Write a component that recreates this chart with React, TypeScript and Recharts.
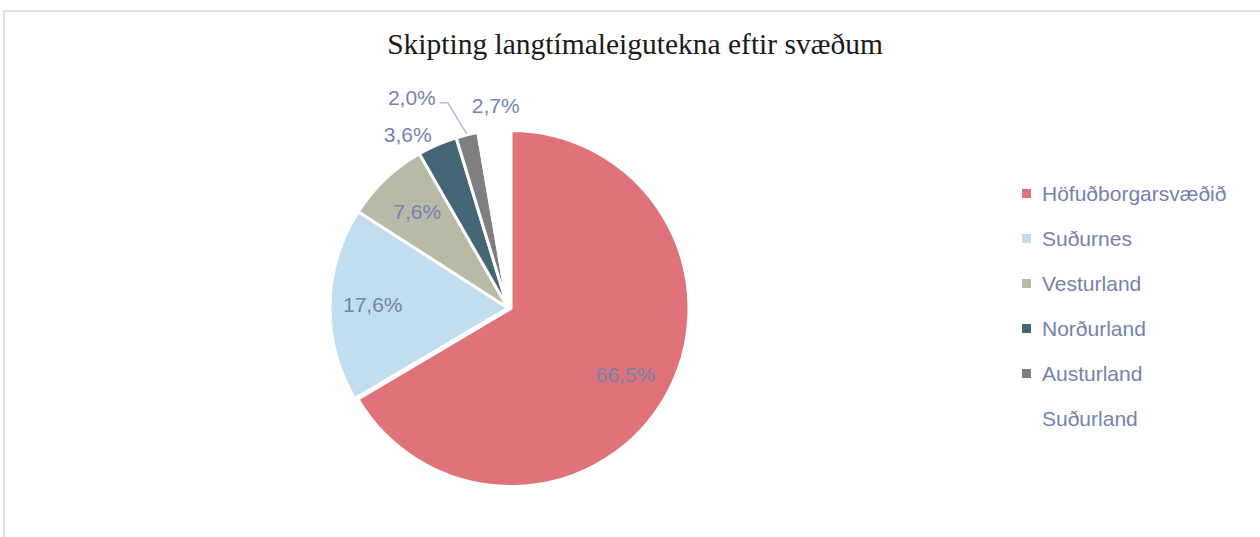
import React from 'react';
import { PieChart, Pie, Cell, Legend } from 'recharts';

const categories = ['Höfuðborgarsvæðið', 'Suðurnes', 'Vesturland', 'Norðurland', 'Austurland', 'Suðurland'];
const values = [66.5, 17.6, 7.6, 3.6, 2.0, 2.7];
const valueLabels = ['66,5%', '17,6%', '7,6%', '3,6%', '2,0%', '2,7%'];
const colors = ['#E07279', '#C0DEED', '#B8BAA8', '#456675', '#7F7F7F', '#FFFFFF'];

const data = categories.map((name, i) => ({ name, value: values[i], label: valueLabels[i] }));

const TEXT_COLOR = '#7483AE';
const FONT = '"Liberation Sans", Arial, sans-serif';
const RAD = Math.PI / 180;

const renderLabel = (props: any) => {
  const { cx, cy, midAngle, outerRadius, index } = props;
  const cos = Math.cos(-midAngle * RAD);
  const sin = Math.sin(-midAngle * RAD);
  const text = valueLabels[index];
  const common = { fill: TEXT_COLOR, fontSize: 21, fontFamily: FONT, dominantBaseline: 'central' as const };
  if (index <= 2) {
    const r = outerRadius * (index === 2 ? 0.74 : 0.76);
    return (
      <text key={index} x={cx + r * cos} y={cy + r * sin - 1} textAnchor="middle" {...common}>
        {text}
      </text>
    );
  }
  if (index === 3) {
    const r = outerRadius + 14;
    return (
      <text key={index} x={cx + r * cos} y={cy + r * sin + 3} textAnchor="end" {...common}>
        {text}
      </text>
    );
  }
  if (index === 4) {
    const r0 = outerRadius + 1;
    const sx = cx + r0 * cos;
    const sy = cy + r0 * sin;
    const ex = sx - 19;
    const ey = sy - 31;
    const tx = ex - 8;
    return (
      <g key={index}>
        <polyline points={`${sx},${sy} ${ex},${ey} ${tx},${ey}`} fill="none" stroke="#B4BCD6" strokeWidth={1.5} />
        <text x={tx - 4} y={ey - 5} textAnchor="end" {...common}>
          {text}
        </text>
      </g>
    );
  }
  const r = outerRadius + 25;
  return (
    <text key={index} x={cx + r * cos + 5} y={cy + r * sin} textAnchor="middle" {...common}>
      {text}
    </text>
  );
};

const renderLegend = () => (
  <div style={{ fontFamily: FONT, fontSize: 21, color: TEXT_COLOR }}>
    {categories.map((c, i) => (
      <div key={c} style={{ height: 45, display: 'flex', alignItems: 'center' }}>
        <span
          style={{
            display: 'inline-block',
            width: 9,
            height: 9,
            background: colors[i],
            marginLeft: 2,
            marginRight: 11,
          }}
        />
        <span>{c}</span>
      </div>
    ))}
  </div>
);

export default function App() {
  return (
    <div style={{ position: 'fixed', left: 0, top: 0, width: 1260, height: 537, background: '#fff', overflow: 'hidden' }}>
      <div
        style={{
          position: 'absolute',
          left: 3,
          top: 10,
          width: 1300,
          height: 600,
          borderTop: '2px solid #DEE1EB',
          borderLeft: '2px solid #DEE1EB',
        }}
      />
      <div
        style={{
          position: 'absolute',
          left: 0,
          width: 1270,
          top: 28,
          textAlign: 'center',
          fontFamily: '"Liberation Serif", "Times New Roman", serif',
          fontSize: 29.5,
          color: '#1a1a1a',
        }}
      >
        Skipting langtímaleigutekna eftir svæðum
      </div>
      <div style={{ position: 'absolute', left: 0, top: 0 }}>
        <PieChart width={1260} height={537}>
          <Pie
            data={data}
            dataKey="value"
            nameKey="name"
            cx={503}
            cy={303}
            outerRadius={178}
            startAngle={90}
            endAngle={-270}
            stroke="#FFFFFF"
            strokeWidth={3}
            label={renderLabel}
            labelLine={false}
            isAnimationActive={false}
          >
            {data.map((d, i) => (
              <Cell key={d.name} fill={colors[i]} {...(i === 0 ? { transform: 'translate(3,0.5)' } : {})} />
            ))}
          </Pie>
          <Legend
            layout="vertical"
            align="right"
            verticalAlign="top"
            content={renderLegend}
            wrapperStyle={{ left: 1020, top: 171, width: 240 }}
          />
        </PieChart>
      </div>
    </div>
  );
}
